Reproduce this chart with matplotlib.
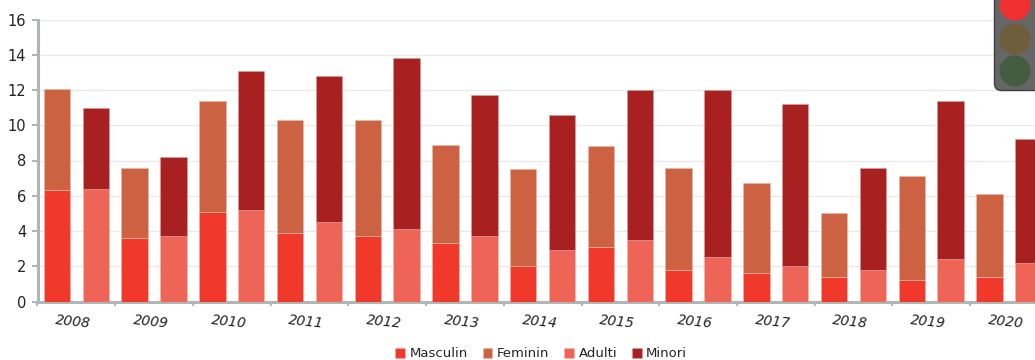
import matplotlib
matplotlib.use('Agg')
import matplotlib.pyplot as plt
from matplotlib.patches import Circle, FancyBboxPatch
from matplotlib.transforms import Affine2D

years = [2008, 2009, 2010, 2011, 2012, 2013, 2014, 2015, 2016, 2017, 2018, 2019, 2020]
masculin = [6.3, 3.6, 5.1, 3.9, 3.7, 3.3, 2.0, 3.1, 1.8, 1.6, 1.4, 1.2, 1.4]
feminin = [5.75, 4.0, 6.3, 6.4, 6.6, 5.6, 5.5, 5.7, 5.8, 5.1, 3.6, 5.9, 4.7]
adulti = [6.4, 3.7, 5.2, 4.5, 4.1, 3.7, 2.9, 3.5, 2.5, 2.0, 1.8, 2.4, 2.2]
minori = [4.6, 4.5, 7.9, 8.3, 9.7, 8.0, 7.7, 8.5, 9.5, 9.2, 5.8, 9.0, 7.0]

C_M, C_F, C_A, C_N = '#F0392B', '#CC6241', '#EE6557', '#A82020'
AXC = '#B0B6B4'
TXT = '#222222'
W, H = 1035, 360

plt.rcParams['font.family'] = ['DejaVu Sans']
fig = plt.figure(figsize=(W / 100, H / 100), dpi=100)
ax = fig.add_axes([37.5 / W, (H - 301.5) / H, (W - 37.5) / W, 282 / H])
ax.set_xlim(-0.5, 12.335)
ax.set_ylim(0, 16)

x = list(range(len(years)))
off, bw = 0.25, 0.34
xa = [i - off for i in x]
xb = [i + off for i in x]
ax.bar(xa, masculin, bw, color=C_M, edgecolor='#F7B0A8', linewidth=0.4, label='Masculin', zorder=3)
ax.bar(xa, feminin, bw, bottom=masculin, color=C_F, edgecolor='#E8BBAA', linewidth=0.4, label='Feminin', zorder=3)
ax.bar(xb, adulti, bw, color=C_A, edgecolor='#F7B8B0', linewidth=0.4, label='Adulti', zorder=3)
ax.bar(xb, minori, bw, bottom=adulti, color=C_N, edgecolor='#D8A0A0', linewidth=0.4, label='Minori', zorder=3)

for s in ('top', 'right'):
    ax.spines[s].set_visible(False)
for s in ('left', 'bottom'):
    ax.spines[s].set_color(AXC)
    ax.spines[s].set_linewidth(2.2)
ax.set_yticks(range(0, 17, 2))
ax.yaxis.grid(True, color='#DCDCDC', linewidth=0.9, linestyle=(0, (1, 0.6)), zorder=0)
ax.set_axisbelow(True)
ax.tick_params(axis='y', length=4, width=1.5, color=AXC, labelcolor=TXT, labelsize=10.5, pad=4)
ax.set_xticks([i - 0.5 for i in x], minor=False)
ax.set_xticklabels([])
ax.tick_params(axis='x', length=3, width=1.5, color=AXC)

for i, yr in zip(x, years):
    ax.annotate(str(yr), xy=(i - 0.04, 0), xytext=(0, -20), xycoords=('data', 'axes fraction'),
                textcoords='offset pixels',
                ha='center', va='center', rotation=-6, style='italic', fontsize=10,
                color=TXT, annotation_clip=False)

leg = ax.legend(loc='lower center', bbox_to_anchor=(0.505, -0.232), ncol=4, frameon=False,
                fontsize=9.5, handlelength=0.75, handleheight=0.75, handletextpad=0.35,
                columnspacing=1.1, labelcolor='#222222', borderpad=0)

# traffic-light widget in pixel coordinates
to_px = Affine2D().scale(1, -1).translate(0, H)
body = FancyBboxPatch((994.5, -30), 60, 120.5, boxstyle='round,pad=0,rounding_size=7',
                      fc='#666666', ec='#3F3F3F', lw=1.0, transform=to_px, zorder=20)
fig.add_artist(body)
for cy, col in zip((5, 39, 71), ('#F03030', '#6E5E3C', '#445C40')):
    fig.add_artist(Circle((1015, cy), 15.5, fc=col, ec='none', transform=to_px, zorder=21))

fig.savefig('out.png', dpi=100)
